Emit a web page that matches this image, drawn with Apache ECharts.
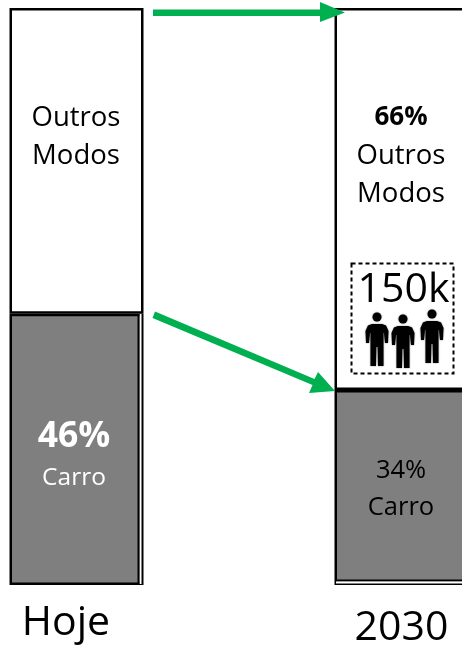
<!DOCTYPE html>
<html><head><meta charset="utf-8">
<style>html,body{margin:0;padding:0;background:#fff;overflow:hidden}#c{width:462px;height:645px}</style>
<script src="https://cdn.jsdelivr.net/npm/echarts@6/dist/echarts.min.js"></script>
</head><body><div id="c"></div>
<script>
const categories = ['Hoje', '2030'];
const carroValues = [47, 33.8];
const outrosValues = [53, 66.2];
const carroLabels = ['46%', '34%'];
const outrosLabels = ['', '66%'];
const carroName = 'Carro';
const outrosName = ['Outros', 'Modos'];
const peopleLabel = '150k';

const FONT = '"Open Sans", sans-serif';
const chart = echarts.init(document.getElementById('c'), null, {renderer: 'canvas'});

const bodyPts = [[-5,7],[5,7],[9,8.5],[11.5,14],[11,26],[8,26],[7,16],[6.5,16],[6.5,49],[1,49],[0.6,30],[-0.6,30],[-1,49],[-6.5,49],[-6.5,16],[-7,16],[-8,26],[-11,26],[-11.5,14],[-9,8.5]];
function person(x, y) {
  const st = {fill: '#000', shadowBlur: 1.5, shadowColor: 'rgba(0,0,0,0.6)'};
  return {type: 'group', x: x, y: y, z: 20, children: [
    {type: 'circle', z: 20, shape: {cx: 0, cy: 0, r: 4.5}, style: st},
    {type: 'polygon', z: 20, shape: {points: bodyPts}, style: st}
  ]};
}
function arrow(p) {
  return {type: 'polygon', z: 20, shape: {points: p}, style: {fill: '#00B050'}};
}

chart.setOption({
  animation: false,
  backgroundColor: '#fff',
  grid: {left: -86, width: 650, top: 8, height: 577, containLabel: false, outerBoundsMode: 'none'},
  xAxis: {
    type: 'category', data: categories,
    axisLine: {show: false}, axisTick: {show: false},
    axisLabel: {
      margin: 0, interval: 0,
      formatter: (v, i) => i === 0 ? '{a|' + v + '}' : '{b|' + v + '}',
      rich: {
        a: {fontFamily: FONT, fontSize: 41, color: '#000', padding: [30, 21, 0, 0], lineHeight: 46},
        b: {fontFamily: FONT, fontSize: 41, color: '#000', padding: [40, 0, 0, 0], lineHeight: 46}
      }
    }
  },
  yAxis: {type: 'value', min: 0, max: 100, show: false, splitLine: {show: false}},
  series: [
    {
      name: 'Carro', type: 'bar', stack: 'total', barWidth: 134,
      itemStyle: {color: '#7F7F7F', borderColor: '#000', borderWidth: 2.5},
      data: carroValues.map((v, i) => ({
        value: v,
        label: {
          show: true, position: 'inside', offset: [i === 0 ? -2.5 : -0.5, i === 0 ? 8 : 2],
          formatter: i === 0
            ? '{big|' + carroLabels[i] + '}\n{w|' + carroName + '}'
            : '{s|' + carroLabels[i] + '}\n{s|' + carroName + '}',
          rich: {
            big: {fontFamily: FONT, fontSize: 35.5, fontWeight: 'bold', color: '#fff', lineHeight: 42},
            w: {fontFamily: FONT, fontSize: 24.5, color: '#fff', lineHeight: 42},
            s: {fontFamily: FONT, fontSize: 25.5, color: '#000', lineHeight: 37}
          }
        }
      }))
    },
    {
      name: 'Outros Modos', type: 'bar', stack: 'total', barWidth: 134,
      itemStyle: {color: '#fff', borderColor: '#000', borderWidth: 2.5},
      data: outrosValues.map((v, i) => ({
        value: v,
        label: {
          show: true, position: 'inside', offset: [-0.5, i === 0 ? -24 : -43],
          formatter: (i === 1 ? '{b|' + outrosLabels[i] + '}\n' : '') + '{n|' + outrosName[0] + '}\n{n|' + outrosName[1] + '}',
          rich: {
            b: {fontFamily: FONT, fontSize: 26, fontWeight: 'bold', color: '#000', lineHeight: 38},
            n: {fontFamily: FONT, fontSize: 27.5, color: '#000', lineHeight: 38}
          }
        }
      }))
    }
  ],
  graphic: [
    {type: 'rect', z: 15, shape: {x: 139.5, y: 314, width: 2, height: 270}, style: {fill: '#fff'}},
    {type: 'rect', z: 15, shape: {x: 137.5, y: 314, width: 2, height: 270}, style: {fill: '#000'}},
    {type: 'rect', z: 15, shape: {x: 336, y: 579.5, width: 126, height: 2}, style: {fill: '#000'}},
    {type: 'rect', z: 15, shape: {x: 336, y: 581.5, width: 126, height: 2}, style: {fill: '#fff'}},
    arrow([[153,9.5],[320,9.5],[320,2],[345,12.5],[320,22],[320,16],[153,16]]),
    arrow([[155,311.5],[314.5,379],[318,372],[335,391],[309,393],[312.5,385],[152.5,318]]),
    {type: 'rect', z: 18, shape: {x: 351.5, y: 263.5, width: 102, height: 110},
      style: {fill: 'transparent', stroke: '#000', lineWidth: 2, lineDash: [4, 3]}},
    {type: 'text', z: 20, x: 403.5, y: 290, style: {text: peopleLabel, font: '41px ' + FONT, fill: '#000', align: 'center', verticalAlign: 'middle'}},
    person(377, 317), person(403, 319), person(432, 314)
  ]
});
</script></body></html>
